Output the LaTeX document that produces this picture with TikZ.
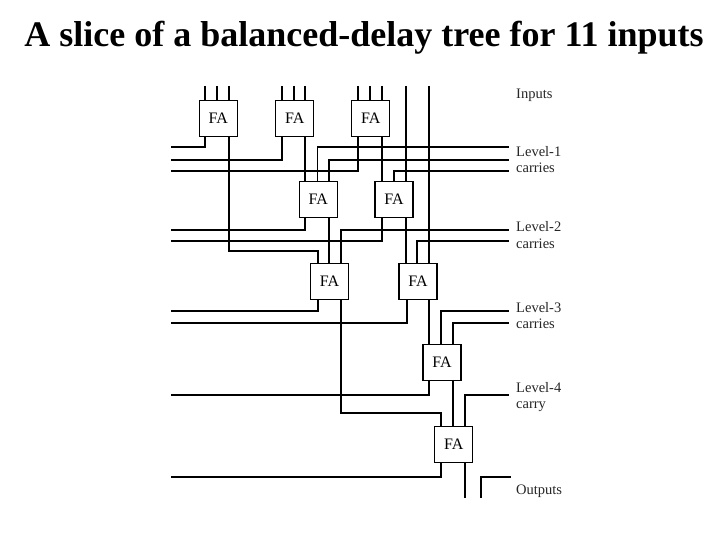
\documentclass[tikz,border=0pt]{standalone}
\usepackage{fontspec}
\setmainfont{Liberation Serif}
\tikzset{
  wire/.style={line width=2pt},
  thinwire/.style={line width=1.5pt},
  fa/.style={draw,line width=1.3pt,fill=white,minimum width=38pt,minimum height=36pt,inner sep=0pt,text depth=0pt,font=\fontsize{16}{18}\selectfont},
  lab/.style={anchor=base west,inner sep=0pt,text=black!85,font=\fontsize{14.5}{16}\selectfont},
  ttl/.style={anchor=center,inner sep=0pt,font=\bfseries\fontsize{36}{40}\selectfont}
}
\begin{document}
\begin{tikzpicture}[x=1pt,y=-1pt]
\useasboundingbox (0,0) rectangle (720,540);
\node[ttl] (title) at (364,38) {A slice of a balanced-delay tree for 11 inputs};
% free ends: top inputs
\foreach \n/\x in {a/205,b/217,c/229,d/281.7,e/293.7,f/305,g/357.7,h/370,i/381.7,j/406,k/428.7}
  \coordinate (t\n) at (\x,86);
% free ends: left
\foreach \n/\y in {a/147,b/160,c/171,d/229.7,e/240.7,f/311,g/322.7,h/395,i/477}
  \coordinate (w\n) at (171,\y);
% free ends: right
\foreach \n/\y in {a/147,b/160,c/171,d/229.7,e/240.7,f/311,g/322.7,h/395}
  \coordinate (e\n) at (508.5,\y);
\coordinate (eo) at (510.7,477);
\coordinate (oa) at (465,497.7);
\coordinate (ob) at (481,497.7);
% wires below, boxes above
\foreach \n in {a,b,c} \draw[wire] (t\n) -- (t\n |- 0,105);
\foreach \n in {d,e,f} \draw[wire] (t\n) -- (t\n |- 0,105);
\foreach \n in {g,h,i} \draw[wire] (t\n) -- (t\n |- 0,105);
% boxes
\node[fa] (fa1) at (218.2,118.5) {FA};
\node[fa] (fa2) at (294.7,118.5) {FA};
\node[fa] (fa3) at (370.8,118.5) {FA};
\node[fa] (fa4) at (318.3,199.2) {FA};
\node[fa] (fa5) at (394,199.2) {FA};
\node[fa] (fa6) at (329.5,281.3) {FA};
\node[fa] (fa7) at (418,281.3) {FA};
\node[fa] (fa8) at (442,362.3) {FA};
\node[fa] (fa9) at (453.7,444.5) {FA};
% FA1 outputs
\draw[thinwire] (ta |- fa1.south) |- (wa);
\draw[wire] (tc |- fa1.south) |- (317.7,251.3) -- (317.7,251.3 |- fa6.north);
% FA2 outputs
\draw[wire] (td |- fa2.south) |- (wb);
\draw[wire] (tf |- fa2.south) -- (tf |- fa4.north);
% FA3 outputs
\draw[wire] (tg |- fa3.south) |- (wc);
\draw[wire] (ti |- fa3.south) -- (ti |- fa5.north);
% pass-through inputs
\draw[wire] (tj) -- (tj |- fa5.north);
\draw[wire] (tk) -- (tk |- fa7.north);
% level-1 carries
\draw[thinwire] (ea) -| (317.7,147 |- fa4.north);
\draw[wire] (eb) -| (329,160 |- fa4.north);
\draw[wire] (ec) -| (393.7,171 |- fa5.north);
% FA4 outputs
\draw[wire] (tf |- fa4.south) |- (wd);
\draw[wire] (329,0 |- fa4.south) -- (329,0 |- fa6.north);
% FA5 outputs
\draw[wire] (ti |- fa5.south) |- (we);
\draw[wire] (tj |- fa5.south) -- (tj |- fa7.north);
% level-2 carries
\draw[wire] (ed) -| (341,0 |- fa6.north);
\draw[wire] (ee) -| (417.3,0 |- fa7.north);
% FA6 outputs
\draw[wire] (317.7,0 |- fa6.south) |- (wf);
\draw[wire] (341,0 |- fa6.south) |- (441,412.7) -- (441,0 |- fa9.north);
% FA7 outputs
\draw[wire] (407,0 |- fa7.south) |- (wg);
\draw[wire] (tk |- fa7.south) -- (tk |- fa8.north);
% level-3 carries
\draw[wire] (ef) -| (441,0 |- fa8.north);
\draw[wire] (eg) -| (452.7,0 |- fa8.north);
% FA8 outputs
\draw[wire] (tk |- fa8.south) |- (wh);
\draw[wire] (452.7,0 |- fa8.south) -- (452.7,0 |- fa9.north);
% level-4 carry
\draw[wire] (eh) -| (465,0 |- fa9.north);
% FA9 outputs
\draw[wire] (441,0 |- fa9.south) |- (wi);
\draw[wire] (oa |- fa9.south) -- (oa);
\draw[wire] (ob) |- (eo);
% labels
\node[lab] (l0) at (516,99) {Inputs};
\node[lab] (l1) at (516,157) {Level-1};
\node[lab] (l1b) at (516,173) {carries};
\node[lab] (l2) at (516,232) {Level-2};
\node[lab] (l2b) at (516,248) {carries};
\node[lab] (l3) at (516,312) {Level-3};
\node[lab] (l3b) at (516,328.5) {carries};
\node[lab] (l4) at (516,392.5) {Level-4};
\node[lab] (l4b) at (516,408) {carry};
\node[lab] (l5) at (516,494.5) {Outputs};
\end{tikzpicture}
\end{document}
